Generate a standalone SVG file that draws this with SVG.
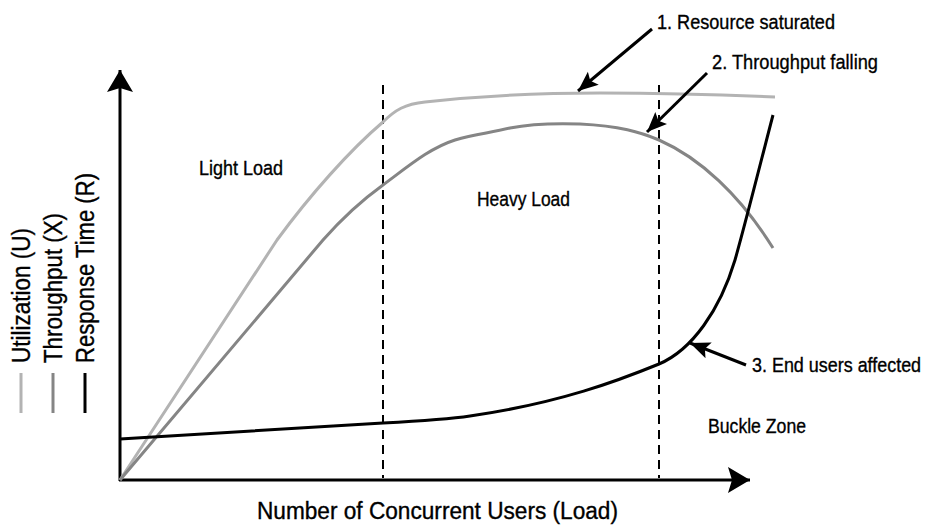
<svg xmlns="http://www.w3.org/2000/svg" width="927" height="525" viewBox="0 0 927 525">
  <style>
    .t { font-family: "Liberation Sans", Arial, sans-serif; fill: #000; stroke: #000; stroke-width: 0.35; }
    .lbl { font-size: 20.5px; }
    .leg { font-size: 25px; }
    .ax { stroke: #000; stroke-width: 3; fill: none; }
    .dash { stroke: #000; stroke-width: 2; stroke-dasharray: 9 6; fill: none; }
    .util { stroke: #b3b3b3; stroke-width: 3; fill: none; stroke-linejoin: round; }
    .thru { stroke: #858585; stroke-width: 3; fill: none; stroke-linejoin: round; }
    .resp { stroke: #000; stroke-width: 3; fill: none; stroke-linejoin: round; }
    .call { stroke: #000; stroke-width: 3; fill: none; }
  </style>
  <defs>
    <marker id="axhead" markerUnits="userSpaceOnUse" markerWidth="24" markerHeight="26" refX="22" refY="13" orient="auto">
      <path d="M0,0 L22,13 L0,26 L4,13 z" fill="#000"/>
    </marker>
    <marker id="callhead" markerUnits="userSpaceOnUse" markerWidth="22" markerHeight="18" refX="20" refY="8.5" orient="auto">
      <path d="M0,0 L20,8.5 L0,17 L4,8.5 z" fill="#000"/>
    </marker>
  </defs>
  <rect width="927" height="525" fill="#fff"/>

  <g id="axes">
    <line class="ax" x1="120" y1="481" x2="120" y2="70" marker-end="url(#axhead)"/>
    <line class="ax" x1="119" y1="480" x2="750" y2="480" marker-end="url(#axhead)"/>
  </g>

  <g id="zones">
    <line class="dash" x1="383" y1="85" x2="383" y2="478"/>
    <line class="dash" x1="659" y1="85" x2="659" y2="478"/>
  </g>

  <g id="curves">
    <path id="utilization" class="util" d="M120,480 L277,240 C310,195 350,150 383,122 C395,110 405,104 425,102 C480,96 540,93 600,93 C680,93 730,95 775,97"/>
    <path id="throughput" class="thru" d="M120,480 L323,240 C345,215 365,198 383,185 C410,165 430,148 455,140 C475,134 490,133 510,128 C530,124 550,123 580,124 C620,126 640,132 659,140 C700,158 740,195 773,248"/>
    <path id="response" class="resp" d="M120,439 L383,423 C420,421 450,419 470,416 C560,403 620,380 659,364 C692,350 720,310 735,260 C745,225 760,165 773,115"/>
  </g>

  <g id="connectors">
    <line class="call" x1="652" y1="29" x2="578" y2="91" marker-end="url(#callhead)"/>
    <line class="call" x1="707" y1="73" x2="647" y2="132" marker-end="url(#callhead)"/>
    <line class="call" x1="746" y1="365" x2="690" y2="343" marker-end="url(#callhead)"/>
  </g>

  <g id="label-1"><text class="t lbl" x="657" y="29" textLength="178" lengthAdjust="spacingAndGlyphs">1. Resource saturated</text></g>
  <g id="label-2"><text class="t lbl" x="712" y="69" textLength="166" lengthAdjust="spacingAndGlyphs">2. Throughput falling</text></g>
  <g id="label-3"><text class="t lbl" transform="translate(752,372) scale(0.875,1)" x="0" y="0">3. End users affected</text></g>
  <g id="light-load"><text class="t lbl" x="199" y="175" textLength="84" lengthAdjust="spacingAndGlyphs">Light Load</text></g>
  <g id="heavy-load"><text class="t lbl" x="477" y="206" textLength="93" lengthAdjust="spacingAndGlyphs">Heavy Load</text></g>
  <g id="buckle-zone"><text class="t lbl" x="708" y="433" textLength="98" lengthAdjust="spacingAndGlyphs">Buckle Zone</text></g>
  <g id="x-label"><text class="t" font-size="23" x="257" y="519" textLength="361" lengthAdjust="spacingAndGlyphs">Number of Concurrent Users (Load)</text></g>

  <g id="legend">
    <line x1="21" y1="373" x2="21" y2="413" stroke="#b3b3b3" stroke-width="3"/>
    <line x1="53" y1="373" x2="53" y2="413" stroke="#858585" stroke-width="3"/>
    <line x1="85" y1="373" x2="85" y2="413" stroke="#000" stroke-width="3"/>
    <text class="t leg" transform="translate(30,363) rotate(-90)" textLength="135" lengthAdjust="spacingAndGlyphs">Utilization (U)</text>
    <text class="t leg" transform="translate(62,363) rotate(-90)" textLength="150" lengthAdjust="spacingAndGlyphs">Throughput (X)</text>
    <text class="t leg" transform="translate(94,363) rotate(-90)" textLength="190" lengthAdjust="spacingAndGlyphs">Response Time (R)</text>
  </g>
</svg>
